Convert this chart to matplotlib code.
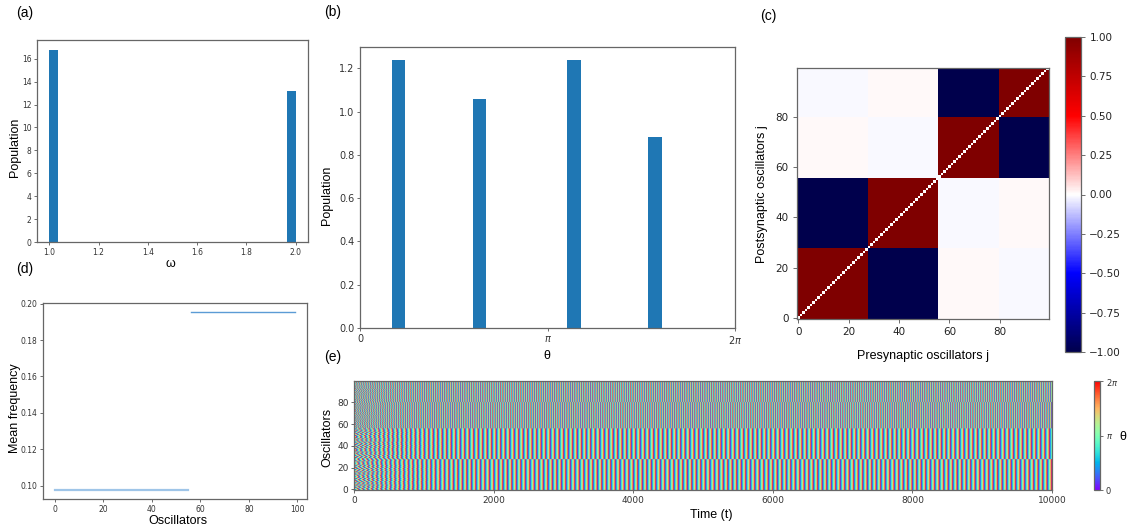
import numpy as np
import matplotlib.pyplot as plt
from matplotlib.ticker import FuncFormatter

# oscillator groups (sizes, natural frequency, final cluster phase, mean frequency)
group_sizes = [28, 28, 24, 20]
group_omega = [1.0, 1.0, 2.0, 2.0]
group_phase = [0.531, 3.58, 2.0, 5.06]
group_freq = [0.0975, 0.0975, 0.1955, 0.1955]

# coupling strength between groups (row: postsynaptic, col: presynaptic)
block_coupling = [
    [1.0, -1.0, 0.014, -0.014],
    [-1.0, 1.0, -0.014, 0.014],
    [0.014, -0.014, 1.0, -1.0],
    [-0.014, 0.014, -1.0, 1.0],
]

# initial phase offsets that relax during the transient
init_offset = [0.0, 2.1, -1.4, 0.9, -2.6, 1.7, -0.6, 2.8, -1.9, 0.4, -2.2, 1.2]
t_relax = 400.0
t_end = 10000

omega = np.repeat(group_omega, group_sizes)
theta_final = np.repeat(group_phase, group_sizes)
freq = np.repeat(group_freq, group_sizes)
n_osc = len(omega)
idx = np.arange(n_osc)

K = np.repeat(np.repeat(np.array(block_coupling), group_sizes, axis=0), group_sizes, axis=1)
np.fill_diagonal(K, 0.0)

t = np.arange(t_end)
offs = np.resize(init_offset, n_osc)
theta_t = (theta_final[:, None] + freq[:, None] * (t[None, :] - t_end)
           + offs[:, None] * np.exp(-t[None, :] / t_relax)) % (2 * np.pi)

W, H = 1129, 531
fig = plt.figure(figsize=(W / 100, H / 100), dpi=100)

LAB = 'Liberation Sans'


def add_ax(x0, y0, x1, y1):
    return fig.add_axes([x0 / W, 1 - y1 / H, (x1 - x0) / W, (y1 - y0) / H])


def text(x, y, s, size=9, **kw):
    kw.setdefault('ha', 'center')
    kw.setdefault('va', 'center')
    fig.text(x / W, 1 - y / H, s, fontsize=size, family=LAB, **kw)


def style(ax, size):
    ax.tick_params(labelsize=size, length=2.5, width=0.6, colors='#555555',
                   labelcolor='#333333', pad=1.5)
    for s in ax.spines.values():
        s.set_color('#666666')
        s.set_linewidth(0.9)


# (a) distribution of natural frequencies
ax_a = add_ax(37, 40, 308, 242)
ax_a.hist(omega, bins=30, density=True, color='#1f77b4')
style(ax_a, 5.5)
text(170, 264, 'ω')
text(15, 147, 'Population', rotation=90)

# (b) distribution of final phases
ax_b = add_ax(360, 47, 735, 328)
ax_b.hist(theta_final, bins=20, density=True, color='#1f77b4')
ax_b.set_xlim(0, 2 * np.pi)
ax_b.set_xticks([0, np.pi, 2 * np.pi], ['0', r'$\pi$', r'$2\pi$'])
style(ax_b, 7)
text(547, 356, 'θ')
text(327, 195, 'Population', rotation=90)

# (c) coupling matrix
ax_c = add_ax(797, 68, 1049, 319)
im_c = ax_c.imshow(K, cmap='seismic', vmin=-1, vmax=1, origin='lower',
                   aspect='auto', interpolation='nearest')
ax_c.set_xticks([0, 20, 40, 60, 80])
ax_c.set_yticks([0, 20, 40, 60, 80])
style(ax_c, 7.5)
ax_c.tick_params(length=3, pad=3, labelcolor='#222222')
text(923, 356, 'Presynaptic oscillators j')
text(762, 194, 'Postsynaptic oscillators j', rotation=90)
cax_c = add_ax(1065, 37, 1081, 352)
cb_c = fig.colorbar(im_c, cax=cax_c, ticks=np.arange(-1, 1.01, 0.25),
                    format=FuncFormatter(lambda v, _: f'{v:.2f}'.replace('-', '\u2212')))
cb_c.outline.set_linewidth(0.6)
style(cax_c, 7.5)
cax_c.tick_params(length=3, pad=3, labelcolor='#222222')

# (d) mean frequency of every oscillator
ax_d = add_ax(43, 303, 307, 499)
slow = freq < 0.15
ax_d.plot(idx[slow], freq[slow], color='#9fc5e8', lw=1.6)
ax_d.plot(idx[~slow], freq[~slow], color='#5b9bd5', lw=1.0)
ax_d.set_xlim(-4.95, 103.95)
ax_d.set_ylim(0.0926, 0.2004)
ax_d.set_yticks([0.10, 0.12, 0.14, 0.16, 0.18, 0.20])
ax_d.set_xticks([0, 20, 40, 60, 80, 100])
style(ax_d, 5.5)
text(178, 521, 'Oscillators')
text(15, 408, 'Mean frequency', rotation=90)

# (e) phase raster over time
ax_e = add_ax(354, 381, 1052, 490)
im_e = ax_e.imshow(theta_t, cmap='rainbow', vmin=0, vmax=2 * np.pi, origin='lower',
                   aspect='auto', extent=(0, t_end, -0.5, n_osc - 0.5))
ax_e.set_xticks([0, 2000, 4000, 6000, 8000, 10000])
ax_e.set_yticks([0, 20, 40, 60, 80])
style(ax_e, 6.5)
text(711, 515, 'Time (t)')
text(327, 437, 'Oscillators', rotation=90)
cax_e = add_ax(1094, 381, 1100, 490)
cb_e = fig.colorbar(im_e, cax=cax_e, ticks=[0, np.pi, 2 * np.pi])
cb_e.ax.set_yticklabels(['0', r'$\pi$', r'$2\pi$'])
cb_e.outline.set_linewidth(0.5)
style(cax_e, 6)
text(1123, 437, 'θ')

# panel letters
for x, y, s in [(16, 13, '(a)'), (324, 12, '(b)'), (760, 16, '(c)'),
                (16, 269, '(d)'), (324, 357, '(e)')]:
    text(x, y, s, size=10, ha='left')

fig.savefig('out.png', dpi=100)
